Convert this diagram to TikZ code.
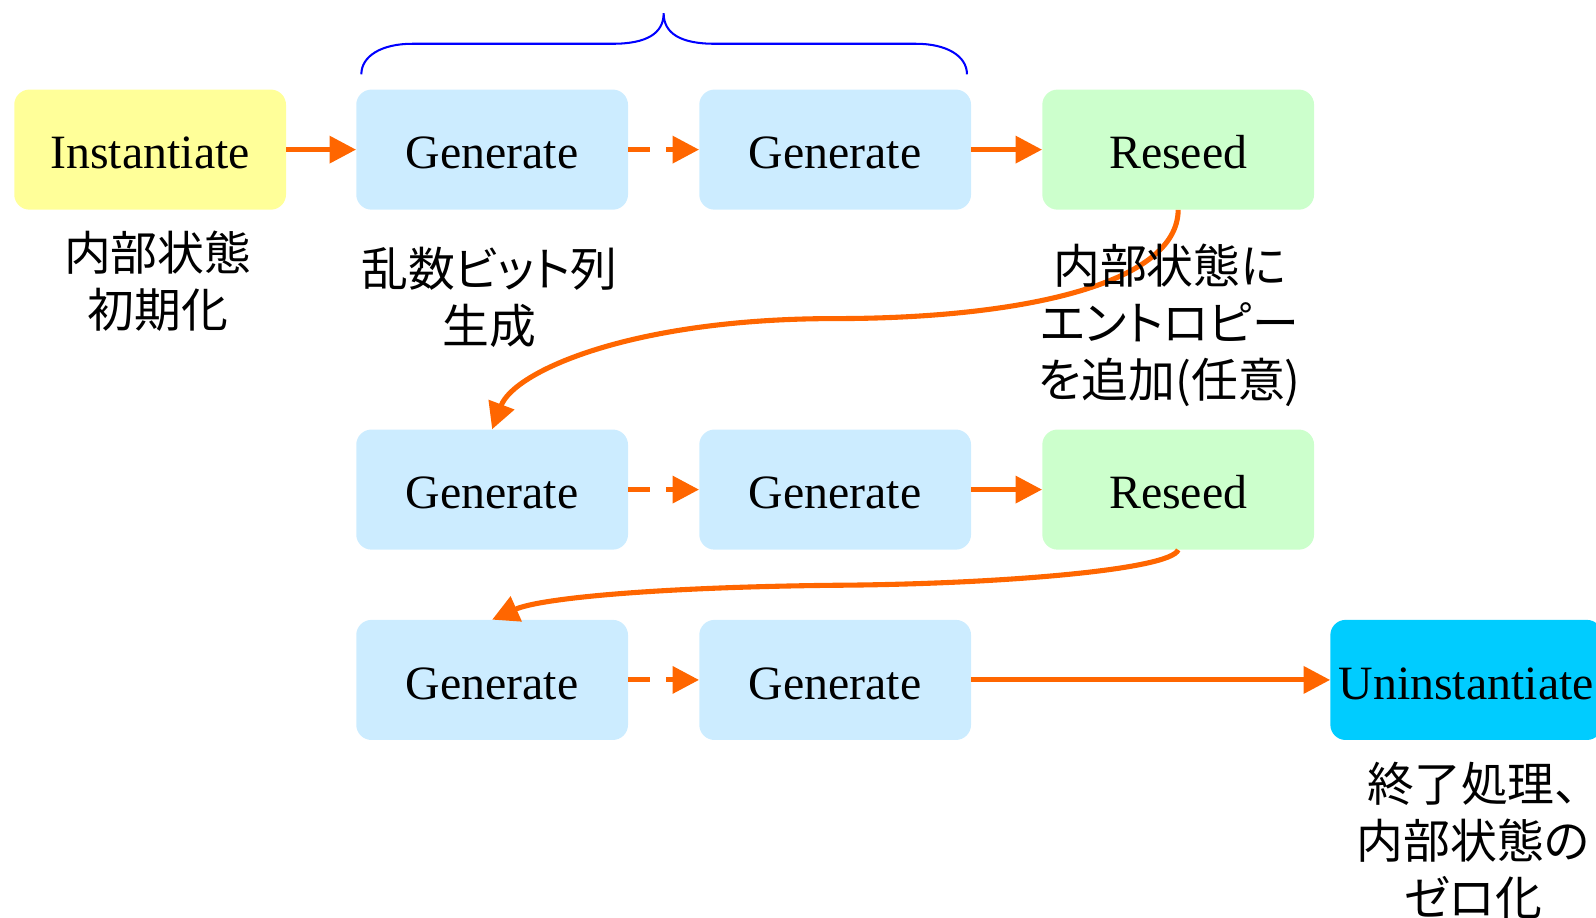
\documentclass[tikz,border=0pt]{standalone}
\usepackage{fontspec}
\setmainfont{Liberation Serif}
\newfontfamily\jp[RawFeature=+palt]{Noto Sans CJK JP}
\usetikzlibrary{arrows.meta}
\definecolor{flow}{HTML}{FF6600}
\definecolor{initbox}{HTML}{FFFF99}
\definecolor{genbox}{HTML}{CCECFF}
\definecolor{seedbox}{HTML}{CCFFCC}
\definecolor{endbox}{HTML}{00CCFF}
\definecolor{bracecol}{HTML}{0000FF}

\begin{document}
\begin{tikzpicture}[x=1pt,y=-1pt,
  stage/.style={rounded corners=15pt, minimum width=267pt, minimum height=118pt,
    inner sep=0pt, text height=38pt, text depth=0pt, font=\fontsize{47}{56}\selectfont},
  init/.style={stage, fill=initbox},
  gen/.style={stage, fill=genbox},
  seed/.style={stage, fill=seedbox},
  fin/.style={stage, fill=endbox},
  note/.style={align=center, inner sep=0pt, font=\jp\fontsize{46}{56}\selectfont},
  flowline/.style={draw=flow, line width=5pt, -{Triangle[length=26pt,width=26pt]}},
  skip/.style={flowline, dash pattern=on 21pt off 16pt},
  bracket/.style={draw=bracecol, line width=2pt},
]
\useasboundingbox (0,0) rectangle (1568,901);

% processing stages
\node[init] (inst) at (147.5,147) {Instantiate};
\node[gen]  (g1)   at (483.5,147) {Generate};
\node[gen]  (g2)   at (820.5,147) {Generate};
\node[seed] (r1)   at (1157.5,147) {Reseed};
\node[gen]  (g3)   at (483.5,481) {Generate};
\node[gen]  (g4)   at (820.5,481) {Generate};
\node[seed] (r2)   at (1157.5,481) {Reseed};
\node[gen]  (g5)   at (483.5,668) {Generate};
\node[gen]  (g6)   at (820.5,668) {Generate};
\node[fin]  (un)   at (1440.5,668) {Uninstantiate};

% bend points of the return paths
\coordinate (bend1) at (820,313);
\coordinate (bend2) at (820,575);

% flow between stages
\draw[flowline] (inst) -- (g1);
\draw[skip]     (g1) -- (g2);
\draw[flowline] (g2) -- (r1);
\draw[flowline] (r1.south) .. controls (1157,280) and (1000,313) .. (bend1)
                .. controls (620,313) and (505,365) .. (g3.north);
\draw[skip]     (g3) -- (g4);
\draw[flowline] (g4) -- (r2);
\draw[flowline] (r2.south) .. controls (1150,560) and (980,574) .. (bend2)
                .. controls (640,577) and (530,588) .. (g5.north);
\draw[skip]     (g5) -- (g6);
\draw[flowline] (g6) -- (un);

% brace over the repeated generate calls
\draw[bracket] (355,73) .. controls (355,55) and (375,43) .. (405,43) -- (602,43)
  .. controls (635,43) and (652,33) .. (652,13)
  .. controls (652,33) and (669,43) .. (702,43) -- (900,43)
  .. controls (930,43) and (950,55) .. (950,73);

% explanations
\node[note] (n0) at (155,276) {内部状態\\初期化};
\node[note] (n1) at (481,292) {乱数ビット列\\生成};
\node[note] (n2) at (1149,320) {内部状態に\\エントロピー\\を追加(任意)};
\node[note] (n3) at (1447,826) {終了処理、\\内部状態の\\ゼロ化};
\end{tikzpicture}
\end{document}
